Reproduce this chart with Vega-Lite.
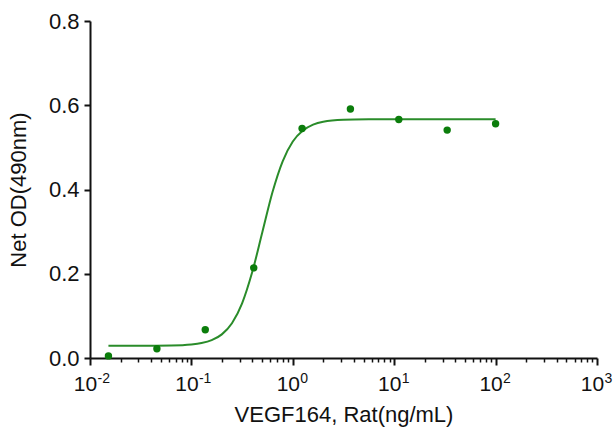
{
  "$schema": "https://vega.github.io/schema/vega-lite/v6.json",
  "width": 507,
  "height": 337,
  "autosize": {"type": "none"},
  "padding": {"left": 90, "top": 21, "right": 16, "bottom": 72},
  "background": "white",
  "config": {
    "view": {"stroke": null},
    "font": "Liberation Sans",
    "axis": {"grid": false, "domainColor": "#111", "domainWidth": 2, "tickColor": "#111", "tickWidth": 2, "labelColor": "#111", "titleColor": "#111", "labelFont": "Liberation Sans", "titleFont": "Liberation Sans", "titleFontWeight": "normal", "labelFlush": false, "labelOverlap": false}
  },
  "datasets": {
    "points": [
      {"conc": 0.0152, "od": 0.005},
      {"conc": 0.0457, "od": 0.022},
      {"conc": 0.137, "od": 0.067},
      {"conc": 0.412, "od": 0.214},
      {"conc": 1.235, "od": 0.545},
      {"conc": 3.70, "od": 0.591},
      {"conc": 11.1, "od": 0.566},
      {"conc": 33.3, "od": 0.541},
      {"conc": 100, "od": 0.556}
    ],
    "curve": [
      {"conc": 0.0152, "od": 0.029},
      {"conc": 0.0316, "od": 0.029},
      {"conc": 0.0631, "od": 0.0297},
      {"conc": 0.1, "od": 0.0321},
      {"conc": 0.1259, "od": 0.0354},
      {"conc": 0.1585, "od": 0.0423},
      {"conc": 0.1995, "od": 0.0561},
      {"conc": 0.2512, "od": 0.0825},
      {"conc": 0.3162, "od": 0.1298},
      {"conc": 0.3981, "od": 0.204},
      {"conc": 0.5012, "od": 0.299},
      {"conc": 0.631, "od": 0.394},
      {"conc": 0.7943, "od": 0.467},
      {"conc": 1.0, "od": 0.514},
      {"conc": 1.259, "od": 0.54},
      {"conc": 1.585, "od": 0.554},
      {"conc": 1.995, "od": 0.561},
      {"conc": 3.162, "od": 0.5655},
      {"conc": 5.623, "od": 0.5667},
      {"conc": 10, "od": 0.567},
      {"conc": 31.62, "od": 0.567},
      {"conc": 100, "od": 0.567}
    ],
    "decades": [
      {"conc": 0.01, "exp": "-2"},
      {"conc": 0.1, "exp": "-1"},
      {"conc": 1, "exp": "0"},
      {"conc": 10, "exp": "1"},
      {"conc": 100, "exp": "2"},
      {"conc": 1000, "exp": "3"}
    ]
  },
  "layer": [
    {
      "data": {"name": "curve"},
      "mark": {"type": "line", "color": "#2a8c2a", "strokeWidth": 2, "interpolate": "monotone", "clip": false},
      "encoding": {
        "x": {
          "field": "conc", "type": "quantitative",
          "scale": {"type": "log", "domain": [0.01, 1000], "nice": false},
          "axis": {
            "orient": "bottom",
            "values": [0.02,0.03,0.04,0.05,0.06,0.07,0.08,0.09,0.2,0.3,0.4,0.5,0.6,0.7,0.8,0.9,2,3,4,5,6,7,8,9,20,30,40,50,60,70,80,90,200,300,400,500,600,700,800,900],
            "labels": false, "domain": false, "tickSize": 4, "title": null, "tickWidth": 1.5
          }
        },
        "y": {
          "field": "od", "type": "quantitative",
          "scale": {"domain": [0, 0.8], "nice": false, "zero": false},
          "axis": {
            "values": [0, 0.2, 0.4, 0.6, 0.8], "format": ".1f",
            "title": "Net OD(490nm)", "tickSize": 6, "labelFontSize": 22, "titleFontSize": 22,
            "labelPadding": 5, "titlePadding": 18
          }
        }
      }
    },
    {
      "data": {"name": "decades"},
      "mark": {"type": "point", "opacity": 0},
      "encoding": {
        "x": {
          "field": "conc", "type": "quantitative",
          "scale": {"type": "log", "domain": [0.01, 1000], "nice": false},
          "axis": {
            "orient": "bottom",
            "values": [0.01, 0.1, 1, 10, 100, 1000],
            "labelExpr": "datum.value < 0.05 ? '-2' : datum.value < 0.5 ? '-1' : datum.value < 5 ? '0' : datum.value < 50 ? '1' : datum.value < 500 ? '2' : '3'",
            "labelAlign": "left", "labelOffset": 7, "labelFontSize": 14, "labelPadding": 13,
            "tickSize": 0, "domain": false, "title": null
          }
        },
        "y": {"datum": 0, "type": "quantitative"}
      }
    },
    {
      "data": {"name": "points"},
      "mark": {"type": "circle", "color": "#0b7d0b", "size": 55, "opacity": 1},
      "encoding": {
        "x": {
          "field": "conc", "type": "quantitative",
          "scale": {"type": "log", "domain": [0.01, 1000], "nice": false},
          "axis": {
            "orient": "bottom",
            "values": [0.01, 0.1, 1, 10, 100, 1000],
            "labelExpr": "'10'",
            "labelOffset": -5,
            "tickSize": 7, "labelFontSize": 21, "labelPadding": 8,
            "title": "VEGF164, Rat(ng/mL)", "titleFontSize": 22, "titlePadding": 10
          }
        },
        "y": {"field": "od", "type": "quantitative"}
      }
    }
  ],
  "resolve": {"axis": {"x": "independent"}}
}
